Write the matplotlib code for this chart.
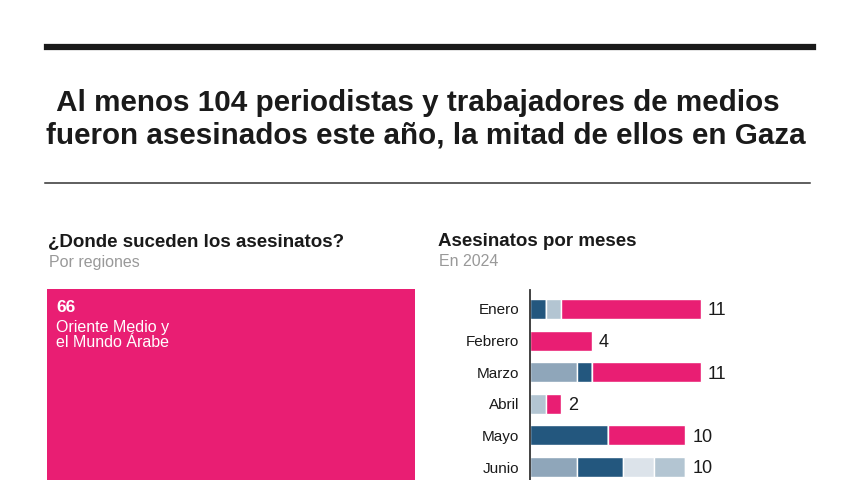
import matplotlib.pyplot as plt
from matplotlib import font_manager
import numpy as np

# ---- data ----
months = ["Enero", "Febrero", "Marzo", "Abril", "Mayo", "Junio"]
seg_grey = [0, 0, 3, 0, 0, 3]
seg_dark = [1, 0, 1, 0, 5, 3]
seg_pale = [0, 0, 0, 0, 0, 2]
seg_light = [1, 0, 0, 1, 0, 2]
seg_pink = [9, 4, 7, 1, 5, 0]
totals = [11, 4, 11, 2, 10, 10]

region_value = [66]
region_label = ["Oriente Medio y\nel Mundo Árabe"]

series = [seg_grey, seg_dark, seg_pale, seg_light, seg_pink]
colors = ["#8FA6BA", "#23577E", "#DCE3EA", "#B3C5D2", "#E91E73"]

# fonts
names = {f.name for f in font_manager.fontManager.ttflist}
narrow = "Liberation Sans Narrow" if "Liberation Sans Narrow" in names else "Liberation Sans"
plt.rcParams['font.family'] = ['Liberation Sans', 'DejaVu Sans']

W, H = 860, 480
fig = plt.figure(figsize=(8.6, 4.8), dpi=100)
fig.patch.set_facecolor('white')

def px(x0, y0, x1, y1):
    # pixel box (top-left origin) -> figure rect
    return [x0 / W, 1 - y1 / H, (x1 - x0) / W, (y1 - y0) / H]

def fx(x):
    return x / W

def fy(y):
    return 1 - y / H

# header rules
fig.add_artist(plt.Line2D([fx(47), fx(813)], [fy(46.5), fy(46.5)], color='#1a1a1a', lw=4.5))
fig.add_artist(plt.Line2D([fx(45), fx(810)], [fy(183), fy(183)], color='#333333', lw=1.1))

# title
fig.text(fx(49), fy(103), " Al menos 104 periodistas y trabajadores de medios",
         family=[narrow, 'DejaVu Sans'], fontsize=21.3, fontweight='bold', color='#1a1a1a', va='center')
fig.text(fx(46), fy(135), "fueron asesinados este año, la mitad de ellos en Gaza",
         family=[narrow, 'DejaVu Sans'], fontsize=21.3, fontweight='bold', color='#1a1a1a', va='center')

# section headers
fig.text(fx(48), fy(242), "¿Donde suceden los asesinatos?", fontsize=13.5, fontweight='bold',
         color='#1a1a1a', va='center')
fig.text(fx(49), fy(262), "Por regiones", fontsize=11.5, color='#999999', va='center')
fig.text(fx(438), fy(242), "Asesinatos por meses", fontsize=13.5, fontweight='bold',
         color='#1a1a1a', va='center')
fig.text(fx(439), fy(262), "En 2024", fontsize=11.5, color='#999999', va='center')

# treemap block (cropped at bottom)
axt = fig.add_axes(px(47, 289, 415, 480))
axt.bar([0], region_value, width=1, color="#E91E73", align='edge')
axt.set_xlim(0, 1)
axt.set_ylim(region_value[0], region_value[0] - 25)
axt.axis('off')
fig.text(fx(56), fy(307), str(region_value[0]), fontsize=12.5, fontweight='bold', color='white', va='center')
fig.text(fx(56), fy(335), region_label[0], fontsize=11.5, color='white', va='center', linespacing=1.05)

# stacked bars
ax = fig.add_axes(px(530, 290, 800, 480))
y = np.arange(len(months))
left = np.zeros(len(months))
for vals, c in zip(series, colors):
    v = np.array(vals, dtype=float)
    ax.barh(y, v, left=left, height=0.63, color=c, edgecolor='white', linewidth=1)
    left += v
for i, t in enumerate(totals):
    ax.text(t + 0.45, i + 0.06, str(t), family=[narrow, 'DejaVu Sans'], fontsize=13,
            color='#1a1a1a', va='center', ha='left')
ax.set_xlim(0, 17.4)
ax.set_ylim(5.41, -0.6)
ax.set_yticks(y)
ax.set_yticklabels(months, fontsize=11, color='#1a1a1a')
ax.tick_params(axis='y', length=0, pad=8)
ax.set_xticks([])
for s in ['top', 'right', 'bottom']:
    ax.spines[s].set_visible(False)
ax.spines['left'].set_color('#333333')
ax.spines['left'].set_linewidth(1.3)
ax.set_facecolor('none')

plt.savefig('out.png', dpi=100)
